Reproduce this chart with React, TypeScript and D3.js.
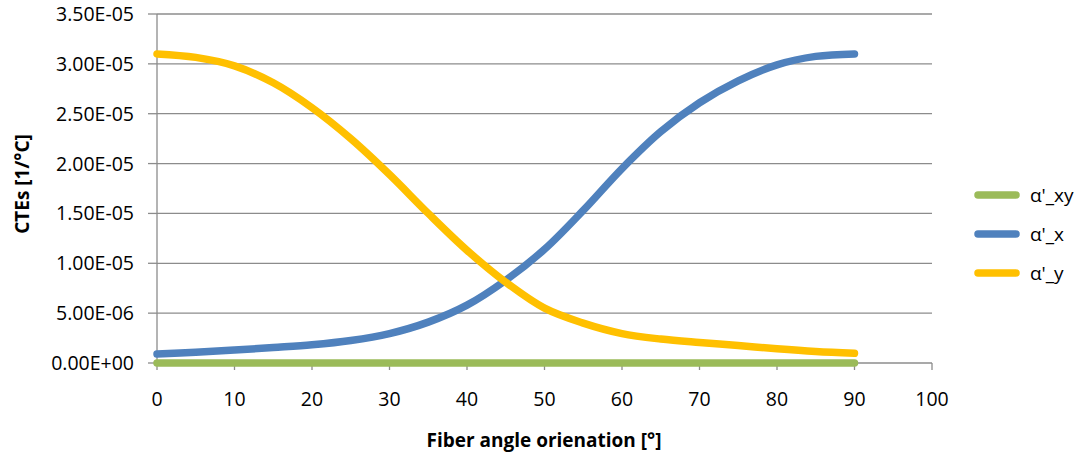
import React from "react";
import * as d3 from "d3";

// Fiber angle (degrees) sampled every 5°
const angles = [0, 5, 10, 15, 20, 25, 30, 35, 40, 45, 50, 55, 60, 65, 70, 75, 80, 85, 90];
// Coefficients of thermal expansion, in units of 1e-6 1/°C
const alphaXY = [0, 0, 0, 0, 0, 0, 0, 0, 0, 0, 0, 0, 0, 0, 0, 0, 0, 0, 0];
const alphaX = [0.9, 1.08, 1.3, 1.55, 1.82, 2.25, 2.95, 4.1, 5.8, 8.3, 11.4, 15.3, 19.5, 23.2, 26.1, 28.3, 29.9, 30.75, 31.0];
const alphaY = [31.0, 30.65, 29.8, 28.1, 25.6, 22.5, 18.9, 15.0, 11.3, 8.1, 5.5, 4.0, 2.95, 2.4, 2.05, 1.75, 1.42, 1.15, 0.97];

const xTicks = [0, 10, 20, 30, 40, 50, 60, 70, 80, 90, 100];
const yTicks = [0, 5e-6, 1e-5, 1.5e-5, 2e-5, 2.5e-5, 3e-5, 3.5e-5];
const yTickLabels = ["0.00E+00", "5.00E-06", "1.00E-05", "1.50E-05", "2.00E-05", "2.50E-05", "3.00E-05", "3.50E-05"];

const seriesNames = ["α'_xy", "α'_x", "α'_y"];
const seriesColors = ["#9BBB59", "#4F81BD", "#FFC000"];
const seriesValues = [alphaXY, alphaX, alphaY];

const W = 1081;
const H = 456;
const FONT = "'Open Sans', Lato, sans-serif";

export default function App() {
  const x = d3.scaleLinear().domain([0, 100]).range([157, 932]);
  const y = d3.scaleLinear().domain([0, 3.5e-5]).range([363, 14]);

  const line = d3
    .line<[number, number]>()
    .x((d) => x(d[0]))
    .y((d) => y(d[1] * 1e-6))
    .curve(d3.curveCatmullRom.alpha(0.5));

  return (
    <svg width={W} height={H} style={{ position: "absolute", left: 0, top: 0, background: "#fff" }}>
      {/* horizontal gridlines */}
      {yTicks.map((t, i) => (
        <line key={"g" + i} x1={x(0)} x2={x(100)} y1={y(t)} y2={y(t)} stroke="#8c8c8c" strokeWidth={1.3} />
      ))}
      {/* y axis line and ticks */}
      <line x1={x(0)} x2={x(0)} y1={y(3.5e-5)} y2={y(0)} stroke="#8c8c8c" strokeWidth={1.3} />
      {yTicks.map((t, i) => (
        <line key={"yt" + i} x1={148} x2={x(0)} y1={y(t)} y2={y(t)} stroke="#8c8c8c" strokeWidth={1.3} />
      ))}
      {/* x axis ticks */}
      {xTicks.map((t, i) => (
        <line key={"xt" + i} x1={x(t)} x2={x(t)} y1={y(0)} y2={370} stroke="#8c8c8c" strokeWidth={1.3} />
      ))}
      {/* tick labels */}
      {yTicks.map((t, i) => (
        <text key={"yl" + i} x={134} y={y(t) + 7} textAnchor="end" fontFamily={FONT} fontSize={19.5} fill="#000">
          {yTickLabels[i]}
        </text>
      ))}
      {xTicks.map((t, i) => (
        <text key={"xl" + i} x={x(t)} y={406} textAnchor="middle" fontFamily={FONT} fontSize={19.5} fill="#000">
          {t}
        </text>
      ))}
      {/* axis titles */}
      <text x={544} y={447} textAnchor="middle" fontFamily={FONT} fontSize={19} fontWeight="bold" fill="#000">
        Fiber angle orienation [°]
      </text>
      <text
        transform={`translate(29, 184) rotate(-90)`}
        textAnchor="middle"
        fontFamily={FONT}
        fontSize={19}
        fontWeight="bold"
        fill="#000"
      >
        CTEs [1/°C]
      </text>
      {/* series */}
      {seriesValues.map((vals, i) => (
        <path
          key={"s" + i}
          d={line(angles.map((a, j) => [a, vals[j]] as [number, number])) || ""}
          fill="none"
          stroke={seriesColors[i]}
          strokeWidth={7.5}
          strokeLinecap="round"
          strokeLinejoin="round"
        />
      ))}
      {/* legend */}
      {seriesNames.map((name, i) => (
        <g key={"lg" + i} transform={`translate(0, ${195 + i * 39})`}>
          <line x1={978} x2={1016} y1={0} y2={0} stroke={seriesColors[i]} strokeWidth={7.5} strokeLinecap="round" />
          <text x={1030} y={7} fontFamily={FONT} fontSize={19} fill="#000">
            {name}
          </text>
        </g>
      ))}
    </svg>
  );
}
